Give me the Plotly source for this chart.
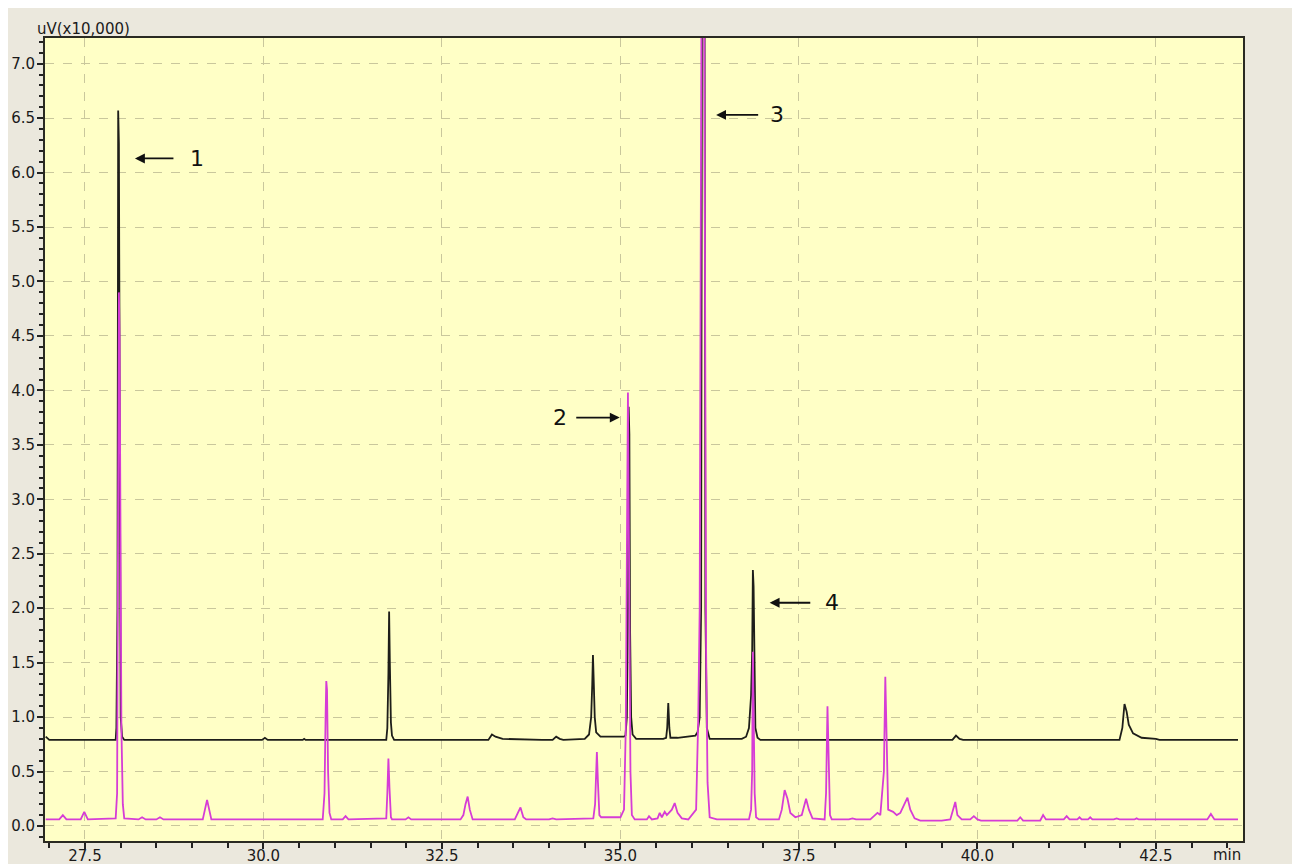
import plotly.graph_objects as go

# ---------------- data ----------------
# Upper (black) chromatogram: retention time (min) and signal (uV x10,000)
black_t = [26.95, 27.0, 27.93, 27.94, 27.955, 27.965, 27.975, 27.985, 28.0, 28.02, 28.05,
           29.98, 30.02, 30.06, 30.55, 30.57, 30.59,
           31.72, 31.735, 31.75, 31.76, 31.77, 31.785, 31.8, 31.83,
           33.15, 33.2, 33.25, 33.35, 33.9, 34.05, 34.1, 34.15, 34.2,
           34.5, 34.56, 34.59, 34.605, 34.615, 34.625, 34.64, 34.66, 34.72,
           35.05, 35.07, 35.09, 35.105, 35.115, 35.125, 35.135, 35.15, 35.17, 35.22,
           35.6, 35.64, 35.655, 35.67, 35.685, 35.7, 35.8,
           36.05, 36.08, 36.11, 36.13, 36.145, 36.175, 36.19, 36.21, 36.25,
           36.7, 36.76, 36.8, 36.83, 36.845, 36.855, 36.865, 36.875, 36.89, 36.92, 36.96,
           39.65, 39.7, 39.75, 39.8,
           41.99, 42.03, 42.06, 42.09, 42.12, 42.18, 42.3, 42.5, 42.55, 43.65]
black_v = [0.82, 0.79, 0.79, 0.90, 2.0, 6.57, 6.27, 3.0, 1.0, 0.82, 0.79,
           0.79, 0.81, 0.79, 0.79, 0.80, 0.79,
           0.79, 0.90, 1.40, 1.97, 1.50, 0.95, 0.83, 0.79,
           0.79, 0.84, 0.82, 0.80, 0.79, 0.79, 0.82, 0.80, 0.79,
           0.80, 0.84, 1.00, 1.30, 1.57, 1.35, 1.00, 0.86, 0.82,
           0.82, 0.83, 1.00, 2.00, 3.85, 3.60, 1.80, 1.00, 0.84, 0.80,
           0.80, 0.81, 0.90, 1.13, 0.90, 0.81, 0.81,
           0.83, 0.86, 1.00, 2.00, 9.00, 9.00, 2.00, 0.90, 0.80,
           0.80, 0.82, 0.90, 1.20, 1.60, 2.35, 2.20, 1.40, 0.90, 0.81, 0.79,
           0.79, 0.83, 0.80, 0.79,
           0.79, 0.90, 1.12, 1.05, 0.93, 0.85, 0.81, 0.80, 0.79, 0.79]

# Lower (magenta) chromatogram
magenta_t = [26.95, 27.14, 27.19, 27.24, 27.44, 27.49, 27.54,
             27.93, 27.95, 27.96, 27.975, 27.985, 27.995, 28.01, 28.03, 28.05,
             28.25, 28.3, 28.35, 28.5, 28.55, 28.6,
             29.15, 29.18, 29.21, 29.24, 29.27,
             30.83, 30.855, 30.87, 30.88, 30.89, 30.905, 30.925, 30.95,
             31.11, 31.15, 31.19,
             31.72, 31.735, 31.75, 31.765, 31.785, 31.8, 31.99, 32.03, 32.07,
             32.76, 32.8, 32.83, 32.86, 32.89, 32.93,
             33.52, 33.56, 33.6, 33.64, 33.68, 34.0, 34.05, 34.1,
             34.62, 34.645, 34.66, 34.67, 34.685, 34.705, 34.73,
             35.0, 35.05, 35.075, 35.09, 35.105, 35.115, 35.125, 35.14, 35.16, 35.2,
             35.37, 35.4, 35.44, 35.52, 35.55, 35.58, 35.62, 35.65, 35.72, 35.76, 35.8, 35.86, 35.95,
             36.06, 36.09, 36.11, 36.125, 36.14, 36.17, 36.185, 36.2, 36.22, 36.25, 36.35,
             36.8, 36.83, 36.845, 36.855, 36.865, 36.88, 36.9, 36.94,
             37.22, 37.26, 37.3, 37.34, 37.38, 37.45, 37.54, 37.6, 37.64, 37.69,
             37.86, 37.88, 37.9, 37.915, 37.935, 37.96,
             38.2, 38.25, 38.3, 38.5, 38.6, 38.64, 38.69, 38.71, 38.725, 38.75,
             38.82, 38.87, 38.92, 38.98, 39.02, 39.06, 39.12, 39.2,
             39.5, 39.62, 39.66, 39.69, 39.72, 39.78, 39.9, 39.95, 40.0, 40.05,
             40.56, 40.6, 40.64, 40.88, 40.92, 40.96,
             41.21, 41.25, 41.29, 41.4, 41.43, 41.46, 41.55, 41.58, 41.61,
             41.91, 41.95, 41.99, 42.2, 42.23, 42.26, 43.22, 43.27, 43.32, 43.65]
magenta_v = [0.06, 0.06, 0.10, 0.06, 0.06, 0.13, 0.06,
             0.07, 0.30, 2.00, 4.90, 4.50, 2.50, 0.90, 0.20, 0.07,
             0.06, 0.08, 0.06, 0.06, 0.08, 0.06,
             0.06, 0.15, 0.24, 0.15, 0.06,
             0.06, 0.30, 1.00, 1.33, 1.25, 0.50, 0.12, 0.06,
             0.06, 0.09, 0.06,
             0.07, 0.30, 0.62, 0.35, 0.08, 0.06, 0.06, 0.08, 0.06,
             0.06, 0.10, 0.20, 0.27, 0.15, 0.06,
             0.06, 0.12, 0.17, 0.08, 0.06, 0.06, 0.07, 0.06,
             0.07, 0.20, 0.55, 0.68, 0.40, 0.10, 0.08,
             0.08, 0.15, 0.90, 2.50, 3.98, 3.00, 1.60, 0.50, 0.10, 0.06,
             0.06, 0.09, 0.06, 0.07, 0.12, 0.08, 0.13, 0.10, 0.15, 0.21, 0.12, 0.07, 0.06,
             0.15, 1.00, 2.00, 5.40, 8.50, 8.50, 4.10, 1.60, 0.40, 0.08, 0.06,
             0.06, 0.15, 0.50, 1.60, 1.00, 0.30, 0.08, 0.06,
             0.06, 0.15, 0.33, 0.25, 0.12, 0.08, 0.10, 0.25, 0.15, 0.07,
             0.06, 0.30, 1.10, 0.60, 0.10, 0.06,
             0.06, 0.07, 0.06, 0.06, 0.12, 0.10, 0.50, 1.37, 0.80, 0.15,
             0.13, 0.10, 0.12, 0.20, 0.26, 0.15, 0.07, 0.05,
             0.05, 0.06, 0.15, 0.22, 0.10, 0.06, 0.06, 0.09, 0.06, 0.05,
             0.05, 0.08, 0.05, 0.05, 0.10, 0.06,
             0.06, 0.09, 0.06, 0.06, 0.08, 0.06, 0.06, 0.08, 0.06,
             0.06, 0.07, 0.06, 0.06, 0.07, 0.06, 0.06, 0.11, 0.06, 0.06]

x_tick_vals = [27.5, 30.0, 32.5, 35.0, 37.5, 40.0, 42.5]
x_tick_text = ["27.5", "30.0", "32.5", "35.0", "37.5", "40.0", "42.5"]
y_tick_vals = [0.0, 0.5, 1.0, 1.5, 2.0, 2.5, 3.0, 3.5, 4.0, 4.5, 5.0, 5.5, 6.0, 6.5, 7.0]
y_tick_text = ["0.0", "0.5", "1.0", "1.5", "2.0", "2.5", "3.0", "3.5",
               "4.0", "4.5", "5.0", "5.5", "6.0", "6.5", "7.0"]
peak_labels = ["1", "2", "3", "4"]

# ---------------- figure ----------------
fig = go.Figure()
fig.add_trace(go.Scatter(x=black_t, y=black_v, mode="lines",
                         line=dict(color="#1e1e1a", width=1.8), showlegend=False,
                         hoverinfo="skip"))
fig.add_trace(go.Scatter(x=magenta_t, y=magenta_v, mode="lines",
                         line=dict(color="#d63cd6", width=1.8), showlegend=False,
                         hoverinfo="skip"))

grid_col = "#c9c79c"
y_font = dict(family="DejaVu Sans", size=15, color="#1a1a1a")
x_font = dict(family="DejaVu Sans", size=15, color="#1a1a1a")

fig.update_xaxes(range=[26.94, 43.72], tickmode="array", tickvals=x_tick_vals,
                 ticktext=x_tick_text, ticks="outside", ticklen=6, tickwidth=1.5,
                 tickcolor="#222", showline=True, linecolor="#2a2a22", linewidth=2,
                 mirror=True, showgrid=True, gridcolor=grid_col, griddash="dash",
                 gridwidth=1, zeroline=False, tickfont=x_font, automargin=False,
                 ticklabelstandoff=-6,
                 minor=dict(tickmode="linear", tick0=27.5, dtick=0.5, ticks="outside",
                            ticklen=5, tickcolor="#222", showgrid=False))
fig.update_yaxes(range=[-0.138, 7.236], tickmode="array", tickvals=y_tick_vals,
                 ticktext=y_tick_text, ticks="outside", ticklen=6, tickwidth=1.5,
                 tickcolor="#222", showline=True, linecolor="#2a2a22", linewidth=2,
                 mirror=True, showgrid=True, gridcolor=grid_col, griddash="dash",
                 gridwidth=1, zeroline=False, tickfont=y_font, automargin=False,
                 ticklabelstandoff=-1,
                 minor=dict(tickmode="linear", tick0=0.0, dtick=0.1, ticks="outside",
                            ticklen=4, tickcolor="#222", showgrid=False))

annots = []
# axis unit labels
annots.append(dict(xref="paper", yref="paper", x=-0.008, y=1.0, xanchor="left",
                   yanchor="bottom", text="uV(x10,000)", showarrow=False,
                   font=dict(family="DejaVu Sans", size=15, color="#1a1a1a"), yshift=-2))
annots.append(dict(xref="x", yref="paper", x=43.5, y=0.0, xanchor="center",
                   yanchor="top", text="min", showarrow=False, yshift=-3,
                   font=x_font))

# peak arrows (head, tail, y) and number labels
arrow_defs = [(28.2, 28.76, 6.13, 29.07),
              (34.99, 34.36, 3.75, 34.15),
              (36.34, 36.95, 6.53, 37.19),
              (37.09, 37.68, 2.05, 37.96)]
for (head, tail, yy, tx), lab in zip(arrow_defs, peak_labels):
    annots.append(dict(x=head, y=yy, ax=tail, ay=yy, xref="x", yref="y",
                       axref="x", ayref="y", text="", showarrow=True,
                       arrowhead=2, arrowsize=1.1, arrowwidth=1.8, arrowcolor="#111"))
    annots.append(dict(x=tx, y=yy, xref="x", yref="y", text=lab, showarrow=False,
                       xanchor="center", yanchor="middle",
                       font=dict(family="DejaVu Sans", size=22, color="#111")))

# the page body adds an 8 px margin at left/top, so the figure is sized to fit
fig.update_layout(width=1290, height=856,
                  margin=dict(l=37, r=55, t=30, b=23),
                  paper_bgcolor="#ebe8dd", plot_bgcolor="#ffffc6",
                  annotations=annots, showlegend=False)

fig.write_html("out.html")
